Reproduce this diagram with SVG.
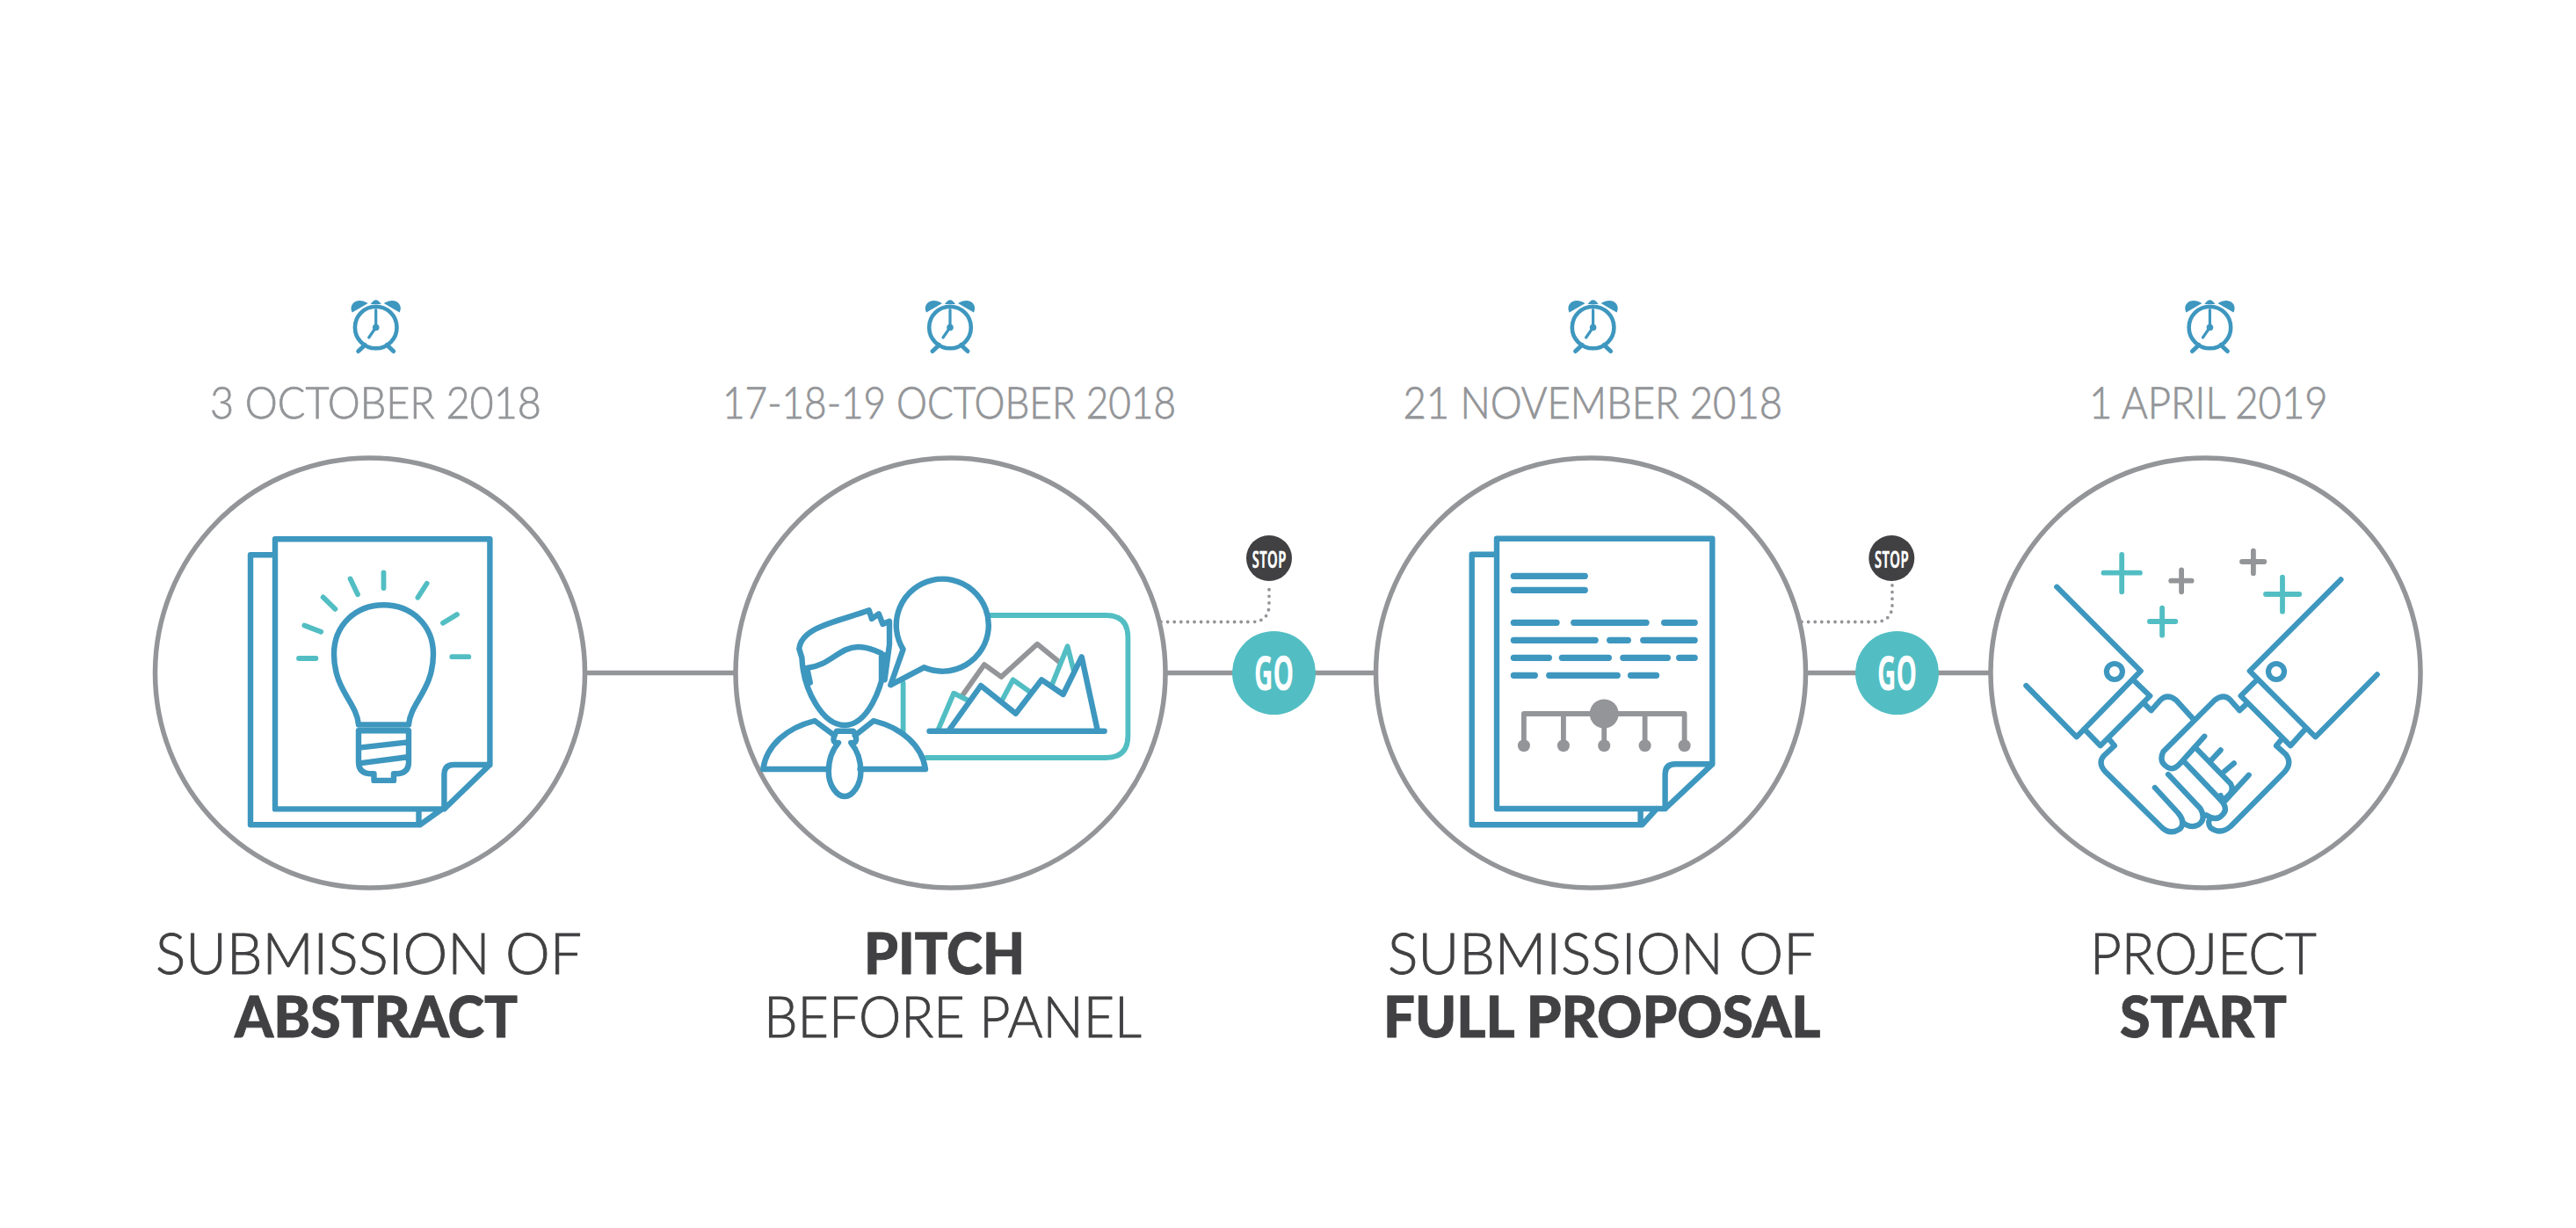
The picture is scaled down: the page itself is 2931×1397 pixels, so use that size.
<svg xmlns="http://www.w3.org/2000/svg" width="2931" height="1397" viewBox="0 0 2931 1397">
<style>
text{font-family:"Lato","Open Sans","Liberation Sans",sans-serif;text-rendering:geometricPrecision}
.date{font-size:50px;font-weight:300;fill:#939598;stroke:#939598;stroke-width:.8}
.tl{font-size:65px;font-weight:300;fill:#414042;stroke:#414042;stroke-width:.9}
.tb{font-size:65px;font-weight:900;fill:#414042;stroke:#414042;stroke-width:.8}
.ring{fill:#fff;stroke:#939598;stroke-width:5.5}
.conn{fill:none;stroke:#939598;stroke-width:5.5}
.dots{fill:none;stroke:#939598;stroke-width:3.8;stroke-linecap:round;stroke-dasharray:0 7.6}
.b{fill:none;stroke:#3e97bf;stroke-width:6.4;stroke-linejoin:round;stroke-linecap:round}
.bt{fill:none;stroke:#3e97bf;stroke-width:7.2;stroke-linecap:round}
.t{fill:none;stroke:#52bec3;stroke-width:5.8;stroke-linejoin:round;stroke-linecap:round}
.g{fill:none;stroke:#939598;stroke-width:5.8;stroke-linejoin:round;stroke-linecap:round}
.gf{fill:#939598}
.go{fill:#52bec3}
.stop{fill:#414042}
.lbl{font-family:"Open Sans","Liberation Sans",sans-serif;font-weight:700;fill:#fff}
.h{vector-effect:non-scaling-stroke;stroke-width:6.2}
</style>
<defs>
<g id="clock">
<circle r="23.8" fill="none" stroke="#3e97bf" stroke-width="4.6"/>
<path d="M-27 -17C-32 -28 -20 -35 -9 -27.500ZM27 -17C32 -28 20 -35 9 -27.500ZM-6 -26.500Q0 -36 6 -26.500Z" fill="#3e97bf"/>
<path d="M-12.500 20L-20 27M12.500 20L20 27" stroke="#3e97bf" stroke-width="5" stroke-linecap="round"/>
<path d="M0 -20V0L-8 11.500" fill="none" stroke="#3e97bf" stroke-width="3.200" stroke-linecap="round"/>
<circle r="3.800" fill="#3e97bf"/>
</g>
</defs>
<rect width="2931" height="1397" fill="#fff"/>

<g id="connectors">
<path class="conn" d="M665 765.500H836M1326 765.500H1565M2055 765.500H2265"/>
<path class="dots" d="M1321 707.500H1424Q1444 707.500 1444 687.500V665"/>
<path class="dots" d="M2050 707.500H2133Q2153 707.500 2153 687.500V665"/>
</g>

<g id="step-abstract">
<use href="#clock" x="427.700" y="372.500"/>
<text class="date" x="239" y="476" textLength="377" lengthAdjust="spacingAndGlyphs">3 OCTOBER 2018</text>
<circle class="ring" cx="421" cy="765.500" r="244.500"/>
<path class="b" d="M313 613.300H557.400V870L505.400 920.400H313ZM505.400 920V881Q505.400 870 516 870H557.400M313 631.200H285V938.300H477.800L503 920.400M476.500 920.400V938"/>
<path class="b" d="M408 824.500C406 799 380 785 380 744C380 711 405 688.300 436.500 688.300C468 688.300 493 711 493 744C493 785 467 799 465 824.500ZM408 831.200H465V867Q465 880.300 450 880.300H448V887.900H425.500V880.300H423Q408 880.300 408 867ZM410.700 850.400L461.600 844.600M410.700 868.200L461.600 861.500"/>
<path class="t" d="M436.500 651.300V669.100M398.600 658.400L407 676.300M367.600 679.400L381.400 692.800M346.300 711.500L365.200 718.700M340 749H359.400M485.700 663.800L475.400 679.800M520 699L504 708.800M514.300 747.200H533.300"/>
<text class="tl" x="177" y="1108" textLength="485" lengthAdjust="spacingAndGlyphs">SUBMISSION OF</text>
<text class="tb" x="267" y="1180" textLength="322" lengthAdjust="spacingAndGlyphs">ABSTRACT</text>
</g>

<g id="step-pitch">
<use href="#clock" x="1081" y="372.500"/>
<text class="date" x="822" y="476" textLength="516" lengthAdjust="spacingAndGlyphs">17-18-19 OCTOBER 2018</text>
<circle class="ring" cx="1081.500" cy="765.500" r="244.500"/>
<path class="t" d="M1125 700H1258Q1283.400 700 1283.400 725V837Q1283.400 862 1258 862H1054M1027.600 776.700V833.300"/>
<path class="g" d="M1094.600 791.700L1120 756L1139.200 770L1180.300 732.700L1204.800 752.700"/>
<path class="t" d="M1067.800 829.300L1085.200 788.700L1101.300 796.700M1140.500 796L1152.600 773.300L1171.300 786.700M1197.200 778.300L1214.600 735.300L1221.800 763.300"/>
<path class="b" d="M1080.300 830L1116 780L1155.700 811.700L1185.200 773.300L1209.700 790L1230.700 747.300L1248.600 830M1057.500 831.700H1256.600"/>
<path class="b" d="M1051.300 759.300A52.500 52.500 0 1 0 1027.600 738.700L1013.300 779.300Z"/>
<path class="b" d="M912.400 748.300C914 785 936 825 961 825C986 825 1005 785 1008 745M912.400 748.300L909.300 738.300C911.500 713 954 707 988.800 694.300L991.900 704L999.900 698.300L1004.400 710L1012 706.700L1012 733.300L1006.600 773.300M918.200 760C945 757 955 736 976.200 736C990 736 1003 743.300 1003 743.300L1003 773.300M918.200 760L921.800 776.700"/>
<path class="b" d="M868.200 875H942.800M978.500 875H1053M868.200 875C872 848 895 828 927 820L949.500 836.700M1053 875C1049 848 1026 828 994 820L972.700 836.700"/>
<path class="b" d="M952 831.700H971C976 840 975 846 968.200 845C975 853 979.400 864 979.400 878C979.400 893 970 906 961 906C952 906 942.800 893 942.800 878C942.800 864 947 853 954 845C947 846 947 840 952 831.700Z"/>
<text class="tb" x="983" y="1108" textLength="183" lengthAdjust="spacingAndGlyphs">PITCH</text>
<text class="tl" x="869" y="1180" textLength="430" lengthAdjust="spacingAndGlyphs">BEFORE PANEL</text>
</g>

<g id="go-stop-1">
<circle class="go" cx="1449.500" cy="765.500" r="47.500"/>
<text class="lbl" x="1427" y="785" font-size="54" textLength="45" lengthAdjust="spacingAndGlyphs">GO</text>
<circle class="stop" cx="1444" cy="635" r="26"/>
<text class="lbl" x="1424.500" y="646" font-size="27" textLength="39" lengthAdjust="spacingAndGlyphs">STOP</text>
</g>

<g id="step-proposal">
<use href="#clock" x="1812.600" y="372.500"/>
<text class="date" x="1596.500" y="476" textLength="431.500" lengthAdjust="spacingAndGlyphs">21 NOVEMBER 2018</text>
<circle class="ring" cx="1810" cy="765.500" r="244.500"/>
<path class="b" d="M1703 612.700H1948.300V869.300L1894.600 920H1703ZM1894.600 920V881Q1894.600 869.300 1906 869.300H1948.300M1703 630.700H1674.700V938.300H1868.400L1885 920M1866.600 920V938"/>
<path class="bt" d="M1722.300 655.300H1803.300M1722.300 671.300H1803.300M1722.300 708.300H1771.100M1790.700 708.300H1873.100M1893.600 708.300H1928.200M1722.300 728.300H1815.200M1831.600 728.300H1852.400M1869.700 728.300H1928.200M1722.300 748.300H1762.400M1777.300 748.300H1830.400M1846.800 748.300H1897.400M1910.600 748.300H1928.200M1722.300 768.300H1746.400M1762.700 768.300H1840.300M1855.500 768.300H1884.600"/>
<path class="g" d="M1733.900 848V812H1916.600V848M1778.900 812V848M1825.200 812V848M1871.600 812V848"/>
<g class="gf"><circle cx="1825.200" cy="812" r="16.500"/><circle cx="1733.900" cy="848.300" r="7"/><circle cx="1778.900" cy="848.300" r="7"/><circle cx="1825.200" cy="848.300" r="7"/><circle cx="1871.600" cy="848.300" r="7"/><circle cx="1916.600" cy="848.300" r="7"/></g>
<text class="tl" x="1579" y="1108" textLength="486.500" lengthAdjust="spacingAndGlyphs">SUBMISSION OF</text>
<text class="tb" x="1574" y="1180" textLength="497.500" lengthAdjust="spacingAndGlyphs">FULL PROPOSAL</text>
</g>

<g id="go-stop-2">
<circle class="go" cx="2158.500" cy="765.500" r="47.500"/>
<text class="lbl" x="2136" y="785" font-size="54" textLength="45" lengthAdjust="spacingAndGlyphs">GO</text>
<circle class="stop" cx="2152.300" cy="635" r="26"/>
<text class="lbl" x="2132.800" y="646" font-size="27" textLength="39" lengthAdjust="spacingAndGlyphs">STOP</text>
</g>

<g id="step-start">
<use href="#clock" x="2514.400" y="372.500"/>
<text class="date" x="2377" y="476" textLength="271.500" lengthAdjust="spacingAndGlyphs">1 APRIL 2019</text>
<circle class="ring" cx="2509.500" cy="765.500" r="244.500"/>
<path class="t" d="M2393.500 651.700H2434.900M2414.200 631V673.300M2445.900 707H2475.300M2460.100 691.700V722.700M2578 676H2616.200M2597 656.700V695.700"/>
<path class="g" d="M2470.200 660.700H2493.600M2482.100 648.300V673.300M2551 639H2576.300M2563.900 626.700V652.300"/>
<circle cx="2405.900" cy="764" r="9" fill="none" stroke="#3e97bf" stroke-width="6.200"/>
<circle cx="2590" cy="764" r="9" fill="none" stroke="#3e97bf" stroke-width="6.200"/>
<g transform="translate(2040 570) scale(0.4591 0.33333)">
<path class="b h" d="M654 293L862 580L703 805L578 630M843 610L885 665L762 835L722 778M870 690L888 715L910 680Q928 655 950 680L993 745M782 810L797 835L770 870Q755 895 775 925L915 1115Q935 1140 958 1120Q975 1100 955 1065L897 978"/>
<path class="b h" d="M1358 268L1132 580L1295 805L1448 592M1150 610L1110 665L1233 835L1270 778M1122 695L1107 715L1085 680Q1068 655 1045 680L918 855Q905 890 930 910Q945 920 960 895L1020 803M1210 815L1198 835L1222 865Q1238 895 1218 925L1085 1110Q1060 1140 1035 1115Q1028 1100 1032 1090"/>
<path class="b h" d="M930 933L1010 1050Q1025 1085 1005 1105Q985 1120 965 1095M970 890L1060 1020Q1080 1050 1065 1070Q1050 1095 1025 1072M1000 845L1085 965Q1095 990 1075 1010Q1065 1025 1060 1005M1033 890L1060 850M1063 930L1093 895M1070 1025L1130 935"/>
</g>
<text class="tl" x="2378" y="1108" textLength="258" lengthAdjust="spacingAndGlyphs">PROJECT</text>
<text class="tb" x="2412" y="1180" textLength="190" lengthAdjust="spacingAndGlyphs">START</text>
</g>
</svg>
